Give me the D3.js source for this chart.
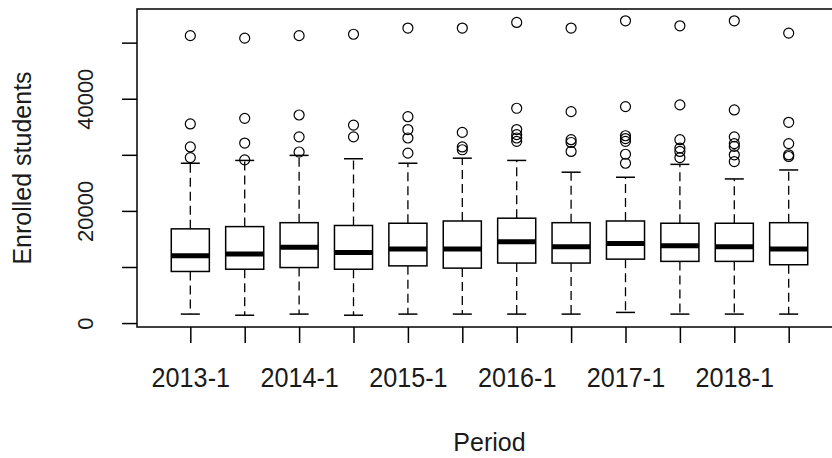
<!DOCTYPE html>
<meta charset="utf-8">
<style>
    body { margin: 0; background: #ffffff; }
    text { font-family: "Liberation Sans", Arial, sans-serif; fill: #1a1a1a; }
    .box { fill: #ffffff; stroke: #000000; stroke-width: 1.5; }
    .median { stroke: #000000; stroke-width: 5; }
    .whisker { stroke: #000000; stroke-width: 1.3; stroke-dasharray: 9,5; }
    .staple { stroke: #000000; stroke-width: 1.5; }
    .outlier { fill: none; stroke: #000000; stroke-width: 1.2; }
</style>
<body>
<div id="chart"></div>
<script src="https://d3js.org/d3.v7.min.js"></script>
<script>

    // periods (one box per semester)
    var periods = ["2013-1", "2013-2", "2014-1", "2014-2", "2015-1", "2015-2",
                   "2016-1", "2016-2", "2017-1", "2017-2", "2018-1", "2018-2"];

    // five-number summaries
    var whiskLo = [1600, 1400, 1600, 1400, 1600, 1600, 1600, 1600, 1900, 1600, 1600, 1600];
    var q1      = [9200, 9600, 9900, 9600, 10200, 9800, 10700, 10700, 11400, 11000, 11000, 10400];
    var median  = [12000, 12300, 13500, 12600, 13200, 13200, 14500, 13600, 14200, 13800, 13600, 13200];
    var q3      = [16800, 17200, 17900, 17400, 17800, 18200, 18700, 17900, 18200, 17800, 17800, 17900];
    var whiskHi = [28500, 29000, 29900, 29300, 28500, 29400, 29000, 26900, 26000, 28300, 25700, 27300];

    var outliers = [
        [51250, 35500, 31400, 29500],
        [50800, 36500, 32100, 29100],
        [51250, 37100, 33200, 30500],
        [51500, 35300, 33200],
        [52600, 36800, 34500, 33000, 30300],
        [52600, 34000, 31400, 30900],
        [53600, 38300, 34500, 33600, 33000, 32400],
        [52600, 37700, 32700, 32200, 30600],
        [53900, 38600, 33400, 32900, 32400, 30100, 28500],
        [53000, 38900, 32700, 31200, 30600, 29500],
        [53900, 38000, 33200, 32000, 31500, 30000, 28800],
        [51700, 35800, 32000, 30000, 29700]
    ];

    var yTicks = [0, 10000, 20000, 30000, 40000, 50000],
        yLabels = [0, 20000, 40000];

    var svg_dx = 832, svg_dy = 458,
        plot = {left: 137, right: 842, top: 9, bottom: 327};

    var n = periods.length;

    // R style 4% padding on both axes
    var dMin = d3.min(whiskLo),
        dMax = d3.max(outliers, o => d3.max(o)),
        pad = (dMax - dMin) * 0.04;

    var x = d3.scaleLinear()
              .domain([0.5 - n * 0.04, n + 0.5 + n * 0.04])
              .range([plot.left, plot.right]);

    var y = d3.scaleLinear()
              .domain([dMin - pad, dMax + pad])
              .range([plot.bottom, plot.top]);

    var halfBox = x(0.35) - x(0),
        halfCap = halfBox / 2;

    var svg = d3.select("#chart")
                .append("svg")
                .attr("width", svg_dx)
                .attr("height", svg_dy);

    var data = periods.map((p, i) => ({
        i: i + 1, lo: whiskLo[i], q1: q1[i], med: median[i],
        q3: q3[i], hi: whiskHi[i], out: outliers[i]
    }));

    var g = svg.append("g")
               .selectAll("g")
               .data(data)
               .enter()
               .append("g");

    // whiskers
    g.append("line").attr("class", "whisker")
     .attr("x1", d => x(d.i)).attr("x2", d => x(d.i))
     .attr("y1", d => y(d.q3)).attr("y2", d => y(d.hi));
    g.append("line").attr("class", "whisker")
     .attr("x1", d => x(d.i)).attr("x2", d => x(d.i))
     .attr("y1", d => y(d.q1)).attr("y2", d => y(d.lo));

    // staples
    g.append("line").attr("class", "staple")
     .attr("x1", d => x(d.i) - halfCap).attr("x2", d => x(d.i) + halfCap)
     .attr("y1", d => y(d.hi)).attr("y2", d => y(d.hi));
    g.append("line").attr("class", "staple")
     .attr("x1", d => x(d.i) - halfCap).attr("x2", d => x(d.i) + halfCap)
     .attr("y1", d => y(d.lo)).attr("y2", d => y(d.lo));

    // boxes and medians
    g.append("rect").attr("class", "box")
     .attr("x", d => x(d.i) - halfBox)
     .attr("width", halfBox * 2)
     .attr("y", d => y(d.q3))
     .attr("height", d => y(d.q1) - y(d.q3));

    g.append("line").attr("class", "median")
     .attr("x1", d => x(d.i) - halfBox).attr("x2", d => x(d.i) + halfBox)
     .attr("y1", d => y(d.med)).attr("y2", d => y(d.med));

    // outliers
    g.selectAll("circle")
     .data(d => d.out.map(v => ({i: d.i, v: v})))
     .enter()
     .append("circle")
     .attr("class", "outlier")
     .attr("r", 5)
     .attr("cx", d => x(d.i))
     .attr("cy", d => y(d.v));

    // frame
    svg.append("rect")
       .attr("x", plot.left).attr("y", plot.top)
       .attr("width", plot.right - plot.left)
       .attr("height", plot.bottom - plot.top)
       .attr("fill", "none")
       .attr("stroke", "#000")
       .attr("stroke-width", 1.5);

    // axes
    var axis_x = d3.axisBottom(x)
                   .tickValues(d3.range(1, n + 1))
                   .tickSize(16)
                   .tickFormat((d, i) => i % 2 == 0 ? periods[i] : "");

    var gx = svg.append("g")
                .attr("transform", "translate(0," + plot.bottom + ")")
                .call(axis_x);
    gx.select(".domain").remove();
    gx.selectAll("line").attr("stroke", "#000").attr("stroke-width", 1.5);
    gx.selectAll("text")
      .attr("x", 0).attr("y", 0).attr("dy", 0)
      .attr("transform", "translate(0,60) scale(0.9,1)")
      .style("font-size", "28px")
      .attr("fill", "#1a1a1a");

    var axis_y = d3.axisLeft(y)
                   .tickValues(yTicks)
                   .tickSize(15)
                   .tickFormat(d => yLabels.includes(d) ? d3.format("d")(d) : "");

    var gy = svg.append("g")
                .attr("transform", "translate(" + plot.left + ",0)")
                .call(axis_y);
    gy.select(".domain").remove();
    gy.selectAll("line").attr("stroke", "#000").attr("stroke-width", 1.5);
    gy.selectAll("text")
      .attr("x", 0).attr("dy", 0)
      .attr("transform", "translate(-44,0) rotate(-90)")
      .attr("text-anchor", "middle")
      .style("font-size", "22px")
      .attr("fill", "#1a1a1a");

    // axis titles
    svg.append("text")
       .attr("x", (plot.left + plot.right) / 2)
       .attr("y", 451)
       .attr("text-anchor", "middle")
       .style("font-size", "25px")
       .text("Period");

    svg.append("text")
       .attr("transform", "translate(31," + ((plot.top + plot.bottom) / 2) + ") rotate(-90)")
       .attr("text-anchor", "middle")
       .style("font-size", "25px")
       .text("Enrolled students");

</script>
</body>
